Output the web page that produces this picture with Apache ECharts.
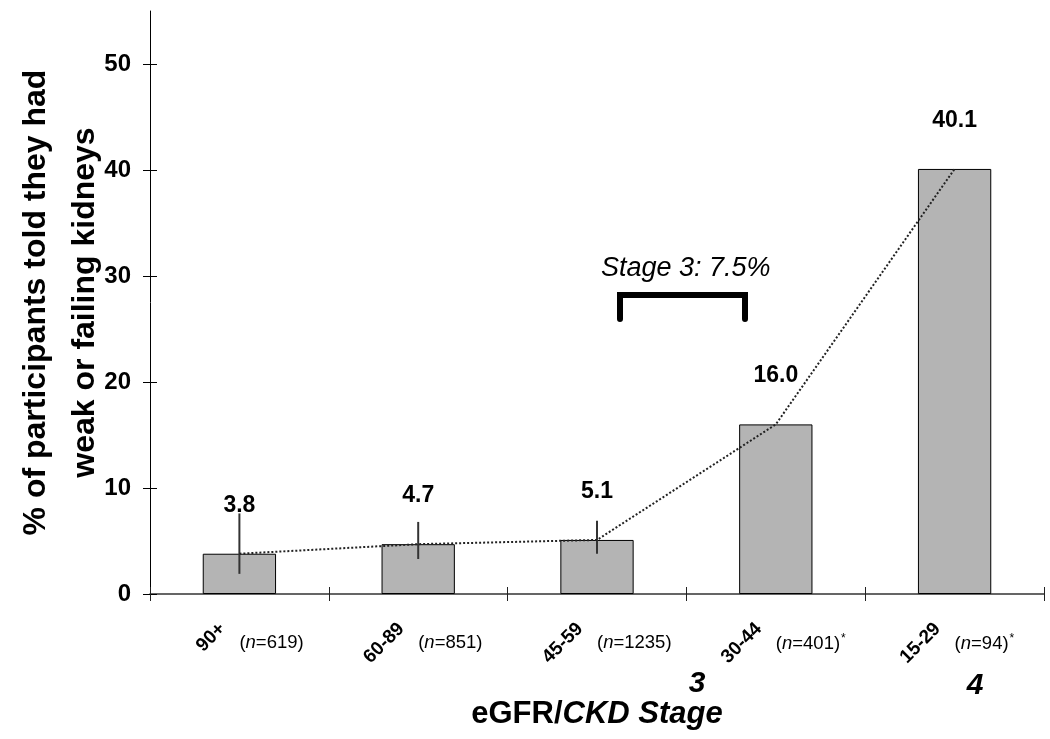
<!DOCTYPE html>
<html>
<head>
<meta charset="utf-8">
<title>eGFR / CKD stage awareness</title>
<script src="https://cdn.jsdelivr.net/npm/echarts@6/dist/echarts.min.js"></script>
<style>
    html, body { margin: 0; padding: 0; background: #fff; }
    #chart { width: 1050px; height: 739px; }
</style>
</head>
<body>
<div id="chart"></div>
<script>
// eGFR categories and the share told they had weak or failing kidneys
const categories = ['90+', '60-89', '45-59', '30-44', '15-29'];
const sampleSizes = ['619', '851', '1235', '401', '94'];
const starred = [false, false, false, true, true];
const barValues = [3.8, 4.7, 5.1, 16.0, 40.1];
// error bars (only the first three are visible)
const errLow = [1.9, 3.3, 3.8, null, null];
const errHigh = [7.6, 6.8, 6.9, null, null];
const yTicks = [0, 10, 20, 30, 40, 50];

const FONT = '"Liberation Sans", Arial, sans-serif';

let myChart = echarts.init(document.getElementById('chart'));

myChart.setOption({
    animation: false,
    grid: { left: 150, right: 6, top: 11, bottom: 145, outerBoundsMode: 'none', containLabel: false },
    xAxis: [
        {
            type: 'category',
            data: categories,
            axisLine: { lineStyle: { color: '#333', width: 1.5 } },
            axisTick: { show: true, length: 7, lineStyle: { color: '#222', width: 1 } },
            axisLabel: {
                interval: 0,
                rotate: 45,
                margin: 15,
                formatter: v => '{r|' + v + '}',
                rich: {
                    r: { fontFamily: FONT, fontSize: 19, fontWeight: 'bold', color: '#000', padding: [0, 24, 0, 0] }
                }
            },
            name: '{a|eGFR/}{b|CKD Stage}',
            nameLocation: 'middle',
            nameGap: 105,
            nameMoveOverlap: false,
            nameTextStyle: {
                rich: {
                    a: { fontFamily: FONT, fontSize: 31, fontWeight: 'bold', color: '#000' },
                    b: { fontFamily: FONT, fontSize: 31, fontWeight: 'bold', fontStyle: 'italic', color: '#000' }
                }
            }
        },
        {
            // second copy: ticks inside so they cross the axis, plus the n= labels
            type: 'category',
            data: categories,
            position: 'bottom',
            axisLine: { show: false },
            axisTick: { show: true, inside: true, length: 7, lineStyle: { color: '#222', width: 1 } },
            axisLabel: {
                interval: 0,
                margin: 39,
                align: 'left',
                formatter: (v, i) => '{p|(}{i|n}{p|=' + sampleSizes[i] + ')}' + (starred[i] ? '{s|*}' : ''),
                rich: {
                    p: { fontFamily: FONT, fontSize: 18.5, color: '#000' },
                    i: { fontFamily: FONT, fontSize: 18.5, fontStyle: 'italic', color: '#000' },
                    s: { fontFamily: FONT, fontSize: 12, color: '#000', padding: [0, 0, 9, 1] }
                }
            }
        }
    ],
    yAxis: [
        {
            type: 'value',
            min: 0,
            max: 55,
            interval: 10,
            position: 'left',
            splitLine: { show: false },
            axisLine: { show: true, lineStyle: { color: '#000', width: 1 } },
            axisTick: { show: true, length: 7, customValues: yTicks, lineStyle: { color: '#000' } },
            axisLabel: {
                customValues: yTicks,
                margin: 19,
                fontFamily: FONT,
                fontSize: 24,
                fontWeight: 'bold',
                color: '#000'
            },
            name: '% of participants told they had\nweak or failing kidneys',
            nameLocation: 'middle',
            nameGap: 40,
            nameMoveOverlap: false,
            nameTextStyle: {
                fontFamily: FONT,
                fontSize: 32,
                fontWeight: 'bold',
                color: '#000',
                lineHeight: 49
            }
        },
        {
            type: 'value',
            min: 0,
            max: 55,
            interval: 10,
            position: 'left',
            splitLine: { show: false },
            axisLine: { show: false },
            axisTick: { show: true, inside: true, length: 7, customValues: yTicks, lineStyle: { color: '#000' } },
            axisLabel: { show: false }
        }
    ],
    series: [
        {
            name: 'percent',
            type: 'bar',
            data: barValues,
            barWidth: '41%',
            itemStyle: { color: '#b4b4b4', borderColor: '#000', borderWidth: 1 },
            label: {
                show: true,
                position: 'top',
                distance: 37,
                formatter: p => p.value.toFixed(1),
                fontFamily: FONT,
                fontSize: 23,
                fontWeight: 'bold',
                color: '#000'
            },
            z: 2
        },
        {
            name: 'error',
            type: 'custom',
            data: categories.map((c, i) => [i, errLow[i], errHigh[i]]),
            renderItem: function (params, api) {
                if (api.value(1) == null || isNaN(api.value(1))) return null;
                const lo = api.coord([api.value(0), api.value(1)]);
                const hi = api.coord([api.value(0), api.value(2)]);
                return {
                    type: 'line',
                    shape: { x1: lo[0], y1: lo[1], x2: hi[0], y2: hi[1] },
                    style: { stroke: '#333', lineWidth: 2 }
                };
            },
            z: 3
        },
        {
            name: 'trend',
            type: 'line',
            data: barValues,
            smooth: false,
            symbol: 'none',
            lineStyle: { color: '#222', width: 2, type: 'dotted' },
            z: 4
        }
    ],
    graphic: [
        {
            type: 'text',
            left: 601,
            top: 255,
            style: {
                text: 'Stage 3: 7.5%',
                font: 'italic 27px ' + FONT,
                fill: '#000'
            }
        },
        {
            type: 'polyline',
            shape: { points: [[620, 319], [620, 295], [745, 295], [745, 319]] },
            style: { stroke: '#000', lineWidth: 6, fill: null, lineCap: 'round', lineJoin: 'miter' }
        },
        {
            type: 'text',
            x: 697,
            y: 684,
            style: {
                text: '3',
                font: 'italic bold 30px ' + FONT,
                fill: '#000',
                align: 'center',
                verticalAlign: 'middle'
            }
        },
        {
            type: 'text',
            x: 975,
            y: 686,
            style: {
                text: '4',
                font: 'italic bold 30px ' + FONT,
                fill: '#000',
                align: 'center',
                verticalAlign: 'middle'
            }
        }
    ]
});

window.onresize = function () {
    myChart.resize();
};
</script>
</body>
</html>
